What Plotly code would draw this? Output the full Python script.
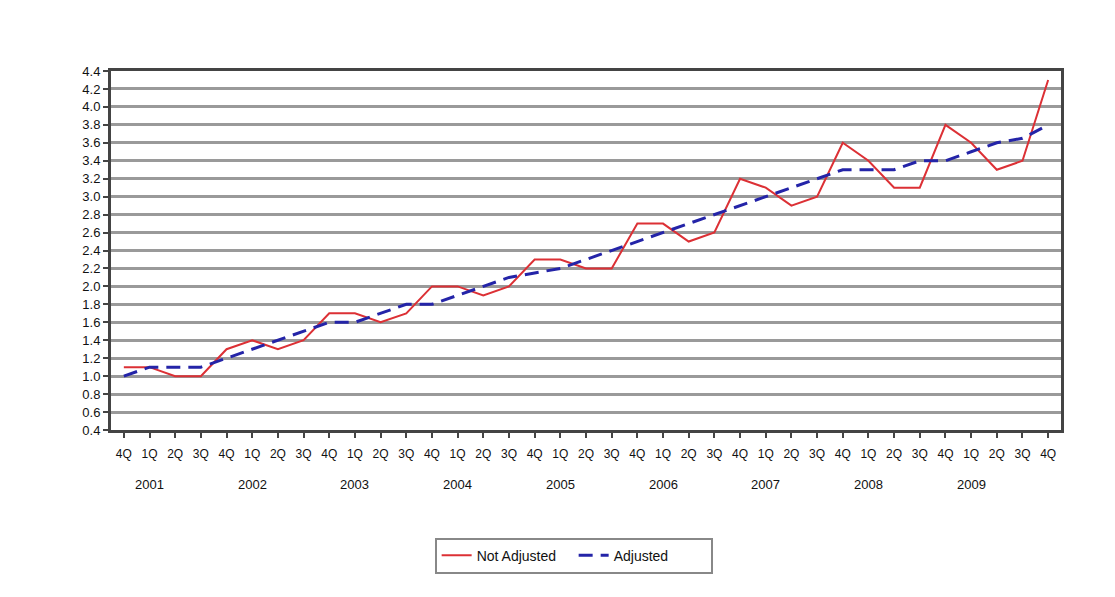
import plotly.graph_objects as go

quarters = ["4Q"] + ["1Q", "2Q", "3Q", "4Q"] * 9
years = ["2000"] + [str(y) for y in range(2001, 2010) for _ in range(4)]
year_labels = [str(y) for y in range(2001, 2010)]

not_adjusted = [1.1, 1.1, 1.0, 1.0, 1.3, 1.4, 1.3, 1.4, 1.7, 1.7, 1.6, 1.7,
                2.0, 2.0, 1.9, 2.0, 2.3, 2.3, 2.2, 2.2, 2.7, 2.7, 2.5, 2.6,
                3.2, 3.1, 2.9, 3.0, 3.6, 3.4, 3.1, 3.1, 3.8, 3.6, 3.3, 3.4, 4.3]
adjusted = [1.0, 1.1, 1.1, 1.1, 1.2, 1.3, 1.4, 1.5, 1.6, 1.6, 1.7, 1.8,
            1.8, 1.9, 2.0, 2.1, 2.15, 2.2, 2.3, 2.4, 2.5, 2.6, 2.7, 2.8,
            2.9, 3.0, 3.1, 3.2, 3.3, 3.3, 3.3, 3.4, 3.4, 3.5, 3.6, 3.65, 3.8]

x_idx = list(range(len(quarters)))

fig = go.Figure()
fig.add_trace(go.Scatter(x=x_idx, y=not_adjusted, mode="lines", name="Not Adjusted",
                         line=dict(color="#dc3035", width=2)))
fig.add_trace(go.Scatter(x=x_idx, y=adjusted, mode="lines", name="Adjusted",
                         line=dict(color="#2424a8", width=3, dash="14px,8px")))

# year labels under the first quarter of each year
for y in year_labels:
    i = years.index(y)
    fig.add_annotation(x=x_idx[i], y=0, xref="x", yref="paper", yshift=-64,
                       text=y, showarrow=False,
                       font=dict(family="Arial, Liberation Sans", size=13, color="#111"))

fig.update_layout(
    width=1115, height=597,
    margin=dict(l=103, r=62, t=63, b=175),
    paper_bgcolor="white", plot_bgcolor="white",
    font=dict(family="Arial, Liberation Sans", size=12, color="#111"),
    showlegend=True,
    legend=dict(orientation="h", x=0.487, xanchor="center", y=-0.3, yanchor="top",
                bordercolor="#888", borderwidth=2, font=dict(size=14),
                entrywidth=92, entrywidthmode="pixels"),
    xaxis=dict(tickmode="array", tickvals=x_idx, ticktext=quarters,
               range=[-0.5, len(quarters) - 0.5],
               showgrid=False, showline=True, linecolor="#444", linewidth=3, mirror=True,
               ticks="outside", ticklen=5, tickcolor="#444", tickwidth=2,
               ticklabelstandoff=6,
               tickfont=dict(size=12, color="#111"), zeroline=False),
    yaxis=dict(range=[0.4, 4.4], dtick=0.2, tick0=0.4, tickformat=".1f",
               showgrid=True, gridcolor="#9a9a9a", gridwidth=3,
               showline=True, linecolor="#444", linewidth=3, mirror=True,
               ticks="outside", ticklen=5, tickcolor="#444", tickwidth=2,
               tickfont=dict(size=13, color="#111"), zeroline=False),
)

fig.write_html("out.html")
